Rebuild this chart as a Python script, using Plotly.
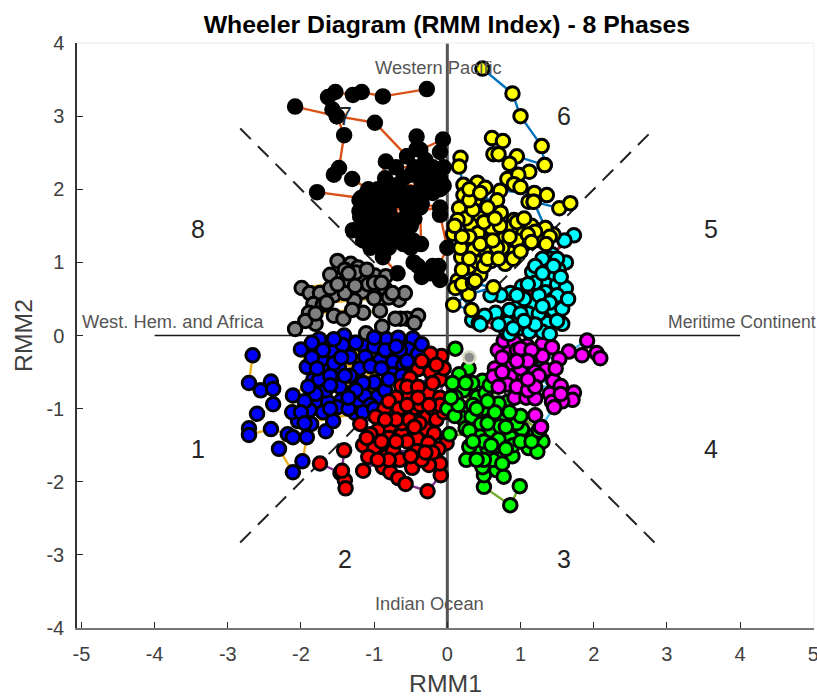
import plotly.graph_objects as go

# Phase trajectories as (RMM1, RMM2); None marks a break in the connecting line
phase8 = [(-1.5,1.02),(-1.32,0.98),(-1.22,0.93),(-1.6,0.83),(-1.4,0.73),(-1.16,0.77),(-0.99,0.82),(-0.84,0.81),
          (-1.99,0.65),(-1.88,0.58),(-1.74,0.58),(-1.55,0.55),(-1.16,0.6),(-0.99,0.65),(-0.85,0.64),(-0.66,0.49),
          (-0.58,0.58),(-1.27,0.48),(-1.0,0.51),(-1.83,0.43),None,(-1.15,0.31),(-0.92,0.34),None,(-1.89,0.31),None,
          (-1.55,0.27),(-1.42,0.23),None,(-0.55,0.23),(-0.64,0.23),(-0.71,0.23),(-0.4,0.27),(-0.45,0.17),None,
          (-0.89,0.12),None,(-1.11,0.03),None,(-1.8,0.16),(-1.94,0.2),(-2.08,0.09),None,(-1.4,0.9),(-1.25,0.86),
          (-1.08,0.7),(-1.6,0.65),(-0.8,0.52),(-1.4,0.58),(-1.26,0.68),None,(-1.35,0.85),(-1.1,0.9),(-1.0,0.72),
          (-0.9,0.72),(-0.75,0.58),(-1.5,0.7),None,(-1.7,0.42),(-1.65,0.45),None,(-1.3,0.35),(-1.8,0.3)]
phase1 = [(-2.66,-0.27),(-2.71,-0.65),None,(-2.41,-0.63),(-2.55,-0.75),(-2.38,-0.73),(-2.38,-0.94),None,
          (-2.6,-1.07),None,(-2.71,-1.27),(-2.71,-1.36),(-2.41,-1.28),(-2.18,-1.35),(-2.3,-1.55),(-2.11,-1.87),
          (-1.98,-1.72),(-1.92,-1.39),None,(-2.11,-1.39),None,(-1.66,-1.31),(-1.86,-1.21),(-2.04,-1.17),(-2.12,-1.05),
          (-2.11,-0.82),(-1.83,-0.6),None,(-1.56,-1.17),(-1.77,-0.92),(-1.88,-1.02),(-1.63,-0.91),(-1.45,-0.89),
          (-1.22,-0.92),(-1.26,-1.06),None,(-1.92,-0.43),(-2.0,-0.19),None,(-1.75,-0.05),(-1.41,0.0),(-1.56,-0.22),
          (-1.33,-0.29),(-1.14,-0.15),(-1.12,-0.29),(-1.43,-0.13),(-0.83,-0.05),(-0.67,-0.03),(-0.47,-0.04),
          (-0.53,-0.19),(-0.74,-0.36),(-0.92,-0.34),(-0.75,-0.53),(-1.0,-0.64),(-1.29,-0.77),(-0.96,-0.84),
          (-1.66,-0.48),(-1.48,-0.44),(-1.25,-0.58),(-1.75,-0.6),(-1.66,-0.75),(-1.13,-0.82),(-0.6,-0.4),(-0.65,-0.2),
          (-1.8,-0.8),(-1.95,-0.9),(-1.72,-0.33),(-1.2,-0.45),(-1.0,-0.15),(-0.85,-0.2),(-0.4,-0.25),(-1.47,-0.7),
          (-1.33,-0.55),(-1.6,-0.55),(-1.9,-0.7),(-1.55,-0.38),(-1.05,-0.42),(-1.7,-0.2),(-1.55,-0.05),(-1.25,-0.1),
          (-1.0,-0.03),(-0.9,-0.45),(-1.15,-0.65),(-1.4,-0.55),(-1.85,-0.3),(-1.78,-0.45),(-1.5,-0.98),(-1.35,-1.0),
          (-1.7,-1.05),(-1.45,-0.3),(-1.25,-0.75),(-1.05,-0.95),(-0.85,-0.75),(-0.62,-0.55),(-0.55,-0.35),(-0.8,-0.6),
          (-1.6,-0.68),(-2.0,-1.05),(-1.95,-1.2),(-1.15,-1.05),(-1.0,-1.0),(-0.7,-0.15),(-0.35,-0.12),(-1.85,-0.1),
          (-1.6,-1.0),(-1.35,-0.85)]
phase2 = [(-1.74,-1.75),(-1.46,-1.88),(-1.4,-1.98),(-1.39,-2.09),None,(-1.41,-1.57),(-1.44,-1.85),None,
          (-1.15,-1.85),(-0.83,-1.65),(-0.88,-1.8),(-0.78,-1.87),(-0.67,-1.95),(-0.57,-2.03),(-0.27,-2.13),(-0.09,-1.91),
          (-0.1,-1.75),(-0.25,-1.77),(-0.48,-1.81),None,(-0.08,-0.28),(-0.23,-0.25),(-0.4,-0.46),(-0.23,-0.5),
          (-0.51,-0.58),(-0.63,-0.69),(-0.26,-0.79),(-0.1,-0.6),(-0.45,-0.99),(-0.28,-1.11),(-0.6,-1.05),(-0.86,-1.0),
          (-0.98,-1.11),(-1.19,-1.21),None,(-0.79,-1.25),(-0.62,-1.35),(-0.3,-1.28),(-0.41,-1.41),(-0.18,-1.34),
          (-0.01,-1.47),(-0.12,-1.55),(-0.26,-1.47),(-1.15,-1.5),(-1.0,-1.54),(-0.74,-1.58),(-0.42,-1.58),(-1.08,-1.66),
          (-0.7,-0.85),(-0.52,-0.82),(-0.8,-0.9),(-0.66,-1.0),(-0.37,-0.95),(-0.95,-1.3),(-0.62,-1.2),(-0.52,-1.15),
          (-0.2,-1.0),(-0.1,-0.85),(-0.38,-1.2),(-0.8,-1.4),(-0.55,-1.45),(-0.15,-1.15),(-0.05,-1.05),(-0.55,-0.7),
          (-0.4,-0.7),(-0.2,-0.65),(-0.05,-0.45),(-0.1,-0.95),(-0.7,-1.15),(-0.85,-1.15),(-0.45,-1.25),(-0.25,-0.95),
          (-0.9,-1.45),(-0.65,-1.7),(-0.35,-1.7),(-0.8,-1.7),(-0.2,-1.6),(-0.95,-1.7),(-0.5,-1.65),(-0.3,-1.6),
          (-0.7,-1.45),(-0.4,-0.85),(-0.55,-0.95),(-0.15,-0.4),(-0.35,-0.35),(-1.05,-1.35),(-1.1,-1.4)]
phase3 = [(0.99,-2.06),(0.86,-2.32),(0.5,-2.07),(0.5,-1.91),None,(0.48,-1.8),(0.67,-1.84),(0.77,-1.93),None,
          (0.26,-1.7),(0.45,-1.58),(0.3,-1.52),None,(0.67,-1.55),(0.89,-1.65),(0.7,-1.69),None,(1.3,-1.45),(1.11,-1.54),
          (1.23,-1.59),None,(0.11,-0.18),None,(0.29,-0.45),(0.16,-0.53),(0.48,-0.62),(0.34,-0.65),(0.22,-0.75),
          (0.11,-0.84),(0.41,-0.84),(0.52,-0.79),(0.0,-1.0),(0.2,-1.0),(0.19,-1.12),(0.33,-1.11),(0.76,-1.1),
          (0.61,-1.13),(0.82,-0.91),(0.7,-0.93),(1.02,-1.28),(0.46,-1.21),(0.25,-1.27),(0.03,-1.35),(0.86,-1.39),
          (0.45,-1.38),(0.6,-1.3),(0.7,-1.42),(0.95,-1.2),(0.72,-1.24),(0.35,-0.95),(0.07,-0.65),(0.1,-1.1),
          (0.5,-1.0),(0.58,-0.68),(0.9,-1.5),(1.2,-1.35),(0.62,-1.7),(0.55,-1.55),(0.25,-0.65),(0.4,-1.0),(0.55,-1.2),
          (0.3,-1.3),(0.5,-1.45),(0.35,-1.45),(0.8,-1.25),(0.65,-1.05),(0.8,-1.55),(1.0,-1.45),(1.15,-1.45),(1.25,-1.3),
          (1.0,-1.1),(0.85,-1.05),(0.15,-0.95),(0.05,-0.85),(0.6,-1.5),(0.5,-1.7),(0.75,-1.75),(0.4,-1.7),(0.55,-0.9)]
phase4 = [(1.91,-0.07),(1.66,-0.22),(1.84,-0.27),(2.04,-0.24),(2.09,-0.31),None,(1.53,-0.32),(0.69,-0.2),(0.77,-0.07),
          (0.92,-0.1),(1.09,-0.14),(1.3,-0.12),(1.43,-0.16),(0.84,-0.24),(1.03,-0.29),(1.23,-0.27),(0.89,-0.38),
          (1.14,-0.43),(0.65,-0.45),(0.63,-0.56),(1.34,-0.47),(1.04,-0.54),(0.86,-0.56),(1.45,-0.62),(0.82,-0.67),
          (1.01,-0.71),(1.55,-0.69),(1.4,-0.8),(1.73,-0.78),(1.71,-0.88),(1.57,-0.9),(1.43,-0.91),None,(0.92,-0.85),
          (1.08,-0.85),(1.2,-0.86),None,(1.2,-1.09),(1.28,-1.25),None,(1.46,-0.98),(1.28,-1.25),None,(0.95,-0.2),
          (1.2,-0.5),(1.0,-0.45),(1.3,-0.28),(1.15,-0.6),(0.95,-0.7),(1.1,-0.75),(0.75,-0.3),(1.0,-0.18),(1.15,-0.2),
          (0.75,-0.5),(1.25,-0.55),(1.1,-0.35),(0.7,-0.7),(0.95,-0.35),(1.55,-0.8),(1.2,-0.7),(1.1,-0.6),(1.48,-0.45)]
phase5 = [(1.73,1.37),(1.43,1.11),(1.33,0.95),(1.62,1.0),(1.52,0.9),(1.16,0.87),(1.34,0.73),(1.5,0.7),(1.34,0.59),
          (1.62,0.65),(1.02,0.67),(0.86,0.58),(0.73,0.55),(0.59,0.55),None,(1.16,0.43),(1.45,0.35),(1.57,0.16),
          (1.36,0.17),(0.94,0.23),(0.66,0.31),(0.51,0.27),(0.34,0.21),(0.43,0.17),(0.82,0.17),(1.14,0.21),(1.3,0.05),
          (0.96,0.39),(1.11,0.3),(1.57,0.37),(1.25,0.55),(1.0,0.1),(0.81,0.04),(1.12,0.05),(1.45,0.5),(1.2,0.72),
          (1.05,0.5),(1.45,0.85),(1.25,0.3),(0.85,0.35),(1.4,0.02),None,(1.6,1.3),(1.4,1.05),None,(0.45,0.15),(0.85,0.02),
          None,(1.3,1.05),(1.5,1.05),(1.2,0.95),(1.45,0.95),(1.1,0.7),(0.95,0.55),(1.3,0.85),(1.55,0.8),(1.0,0.3),(1.2,0.15),
          (0.7,0.15),(1.5,0.55),(1.4,0.45),(1.3,0.4),(1.65,0.5),(1.5,0.2),(0.9,0.1),(1.05,0.2)]
phase7 = [(-0.28,3.37),(-0.88,3.27),(-1.17,3.33),(-1.29,3.29),(-1.53,3.33),(-1.63,3.26),(-1.57,3.09),(-1.51,3.0),
          (-1.41,2.74),(-1.48,2.29),(-1.55,2.2),None,(-2.08,3.13),(-1.51,3.0),(-0.99,2.91),(-0.55,2.45),None,
          (-1.3,2.14),(-1.08,2.0),None,(-1.78,1.96),(-1.18,1.88),None,(-0.84,2.38),(-0.95,2.0),None,
          (-0.42,2.72),(-0.37,2.54),(-0.06,2.68),(-0.1,2.51),(-0.1,2.0),None,(-0.37,1.75),(-0.36,1.25),None,
          (-0.1,1.65),(0.0,1.2),(-0.12,0.95),None,(-0.55,2.45),(-0.7,2.3),(-0.45,2.3),(-0.6,2.15),(-0.35,2.1),(-0.15,2.2),
          (-0.05,2.05),(-0.2,1.95),(-0.5,1.95),(-0.72,2.05),(-0.9,1.9),(-1.05,1.8),(-1.2,1.85),(-0.8,1.7),(-0.55,1.75),
          (-0.35,1.8),(-0.1,1.75),(-1.1,1.6),(-0.9,1.5),(-0.65,1.55),(-0.45,1.6),(-1.19,1.62),(-1.29,1.44),(-1.15,1.3),
          (-1.05,1.2),(-0.85,1.35),(-0.6,1.4),(-0.47,1.3),(-0.75,1.28),(-0.88,1.07),(-0.68,0.85),None,(-0.46,1.0),
          (-0.23,0.85),(-0.1,0.76),(-0.2,0.95),None,(-0.8,1.2),(-0.95,1.65),(-0.7,1.85),(-0.3,2.0),(-0.85,2.15),(-1.0,1.4),
          (-0.95,1.75),(-1.1,1.95),(-0.8,1.95),(-0.6,1.95),(-0.75,1.6),(-1.2,1.7),(-1.15,1.5),(-1.0,1.25),(-0.7,1.45),
          (-0.5,1.5),(-0.85,1.85),(-0.65,2.0),(-0.4,1.95),(-0.5,2.2),(-0.3,2.25),(-0.2,2.3),(-0.05,2.3),(-0.1,2.15),
          (-0.25,2.1),(-0.45,1.85),(-0.55,1.65),(-0.95,1.45),(-1.05,1.35),(-0.9,1.25),(-0.6,1.25),(-0.3,2.4),(-0.42,2.55),
          None,(-0.5,1.2),(-0.4,0.95),None,(-0.35,0.8),(-0.15,0.85)]
phase6 = [(0.48,3.65),(0.89,3.31),(1.0,3.0),(1.29,2.59),(1.33,2.33),(1.12,2.24),None,(0.61,2.7),(0.76,2.66),None,
          (0.63,2.48),(0.7,2.48),None,(0.95,2.45),(1.33,2.33),None,(0.85,2.35),(0.82,2.14),(0.97,2.2),(0.91,2.07),(1.0,2.03),
          None,(0.72,1.98),(1.19,1.95),(1.36,1.92),None,(1.11,1.83),(1.18,1.83),(1.53,1.74),(1.68,1.81),None,
          (1.18,1.83),(1.34,1.47),(1.45,1.38),None,(0.18,2.43),(0.16,2.31),(0.22,2.06),(0.41,2.09),(0.52,2.02),(0.22,1.92),
          (0.38,1.85),(0.68,1.85),(0.16,1.74),(0.73,1.68),(0.45,1.61),(0.32,1.51),(0.61,1.46),(0.08,1.39),(0.91,1.58),
          (1.15,1.5),(1.34,1.47),(0.97,1.42),(0.78,1.33),(0.29,1.28),(1.07,1.26),(1.27,1.3),(0.52,1.17),(0.36,1.17),
          (0.86,1.13),(0.19,1.07),(0.6,1.02),(0.79,0.98),(0.3,0.94),(0.45,0.83),(0.14,0.75),(0.63,0.66),(0.29,0.56),
          (0.08,0.42),(0.33,0.35),(0.11,0.65),(0.2,0.7),(0.35,0.72),(0.25,1.6),(0.55,1.3),(0.42,1.4),(0.14,1.58),(0.75,1.2),
          (0.95,1.3),(1.2,1.42),(1.4,1.35),(0.88,1.48),(0.72,1.5),(0.35,1.72),(0.55,1.75),(0.18,1.2),(0.9,1.05),(0.42,1.0),
          (0.3,1.85),(0.5,1.55),(0.3,1.35),(0.65,1.6),(0.85,1.35),(1.0,1.15),(0.45,1.25),(0.68,1.2),(0.62,1.3),(0.2,0.9),
          (0.38,0.75),(0.3,1.05),(0.5,0.95),(0.2,1.35),(1.1,1.38),(1.15,1.28),(1.35,1.25),(0.3,2.0),(0.45,1.95),(0.95,1.55),
          (1.05,1.6),(0.55,1.05),(0.1,1.5),(0.7,1.05)]
start_point = [(0.3,-0.3)]

phase_order = [phase8, phase1, phase2, phase3, phase4, phase5, phase7, phase6]
fills = ["#808080", "#0000ff", "#ff0000", "#00ff00", "#ff00ff", "#00ffff", "#000000", "#ffff00"]
line_colors = ["#EDB120", "#EDB120", "#7E2F8E", "#77AC30", "#4DBEEE", "#A2142F", "#D95319", "#0072BD"]

divider_x = [[-2.83,-0.7],[2.75,0.7],[-2.83,-0.7],[2.83,0.7]]
divider_y = [[2.83,0.7],[2.75,0.7],[-2.83,-0.7],[-2.83,-0.7]]
tick_x = [-5,-4,-3,-2,-1,0,1,2,3,4,5]
tick_y = [-4,-3,-2,-1,0,1,2,3,4]
phase_labels = [("1",-3.4,-1.55),("2",-1.4,-3.05),("3",1.6,-3.05),("4",3.6,-1.55),
                ("5",3.6,1.45),("6",1.6,3.0),("7",-1.4,3.0),("8",-3.4,1.45)]
region_labels = [("Western Pacific",-0.12,3.67),("Indian Ocean",-0.25,-3.67),
                 ("West. Hem. and Africa",-3.75,0.19),("Meritime Continent",4.02,0.19)]

fig = go.Figure()
fig.add_trace(go.Scatter(x=[-4,4], y=[0,0], mode="lines", line=dict(color="#1a1a1a", width=1.6), showlegend=False))
fig.add_trace(go.Scatter(x=[0,0], y=[-4,4], mode="lines", line=dict(color="#555555", width=3), showlegend=False))
for dx, dy in zip(divider_x, divider_y):
    fig.add_trace(go.Scatter(x=dx, y=dy, mode="lines",
                             line=dict(color="#222222", width=2, dash="15px,10px"), showlegend=False))
for pts, fill, lc in zip(phase_order, fills, line_colors):
    xs = [p[0] if p else None for p in pts]
    ys = [p[1] if p else None for p in pts]
    fig.add_trace(go.Scatter(x=xs, y=ys, mode="lines+markers", line=dict(color=lc, width=2.4),
                             marker=dict(size=13.5, color=fill, line=dict(color="#000000", width=3)),
                             cliponaxis=False, showlegend=False))
fig.add_trace(go.Scatter(x=[p[0] for p in start_point], y=[p[1] for p in start_point], mode="markers",
                         marker=dict(size=12, color="#8c8c8c", line=dict(color="#d8d8c0", width=2.5)), showlegend=False))

for t, x, y in phase_labels:
    fig.add_annotation(x=x, y=y, text=t, showarrow=False, font=dict(family="Liberation Sans", size=25, color="#262626"))
for t, x, y in region_labels:
    label_size = 17.6 if t.startswith("Meritime") else 18.3
    fig.add_annotation(x=x, y=y, text=t, showarrow=False, font=dict(family="Liberation Sans", size=label_size, color="#555555"))

axis_common = dict(showgrid=False, zeroline=False, showline=True, linewidth=1.5, automargin=False,
                   ticks="inside", ticklen=6, tickcolor="#262626", tickwidth=1, ticklabeloverflow="allow",
                   tickfont=dict(family="Liberation Sans", size=20, color="#404040"))
fig.update_xaxes(range=[-5.06,5.01], tickvals=tick_x, ticktext=[str(v) for v in tick_x], linecolor="#777777",
                 ticklabelstandoff=7,
                 title=dict(text="RMM1", font=dict(family="Liberation Sans", size=24.8, color="#404040"), standoff=12), **axis_common)
fig.update_yaxes(range=[-4,4], tickvals=tick_y, ticktext=[str(v) for v in tick_y], linecolor="#333333",
                 ticklabelstandoff=7,
                 title=dict(text="RMM2", font=dict(family="Liberation Sans", size=24.8, color="#404040"), standoff=7), **axis_common)
fig.update_layout(width=817, height=697, margin=dict(l=77, r=3, t=43, b=69), plot_bgcolor="white", paper_bgcolor="white",
                  title=dict(text="<b>Wheeler Diagram (RMM Index) - 8 Phases</b>", x=0.547, xanchor="center",
                             y=0.9656, yanchor="middle",
                             font=dict(family="Liberation Sans", size=24.8, color="#000000")),
                  shapes=[dict(type="line", xref="paper", yref="paper", x0=0, x1=1, y0=1, y1=1, line=dict(color="#f0f0f0", width=1.5)),
                          dict(type="line", xref="paper", yref="paper", x0=1, x1=1, y0=0, y1=1, line=dict(color="#f0f0f0", width=1))],
                  showlegend=False)
fig.write_html("out.html", config={"displayModeBar": False}, post_script="document.body.style.margin='0';")
